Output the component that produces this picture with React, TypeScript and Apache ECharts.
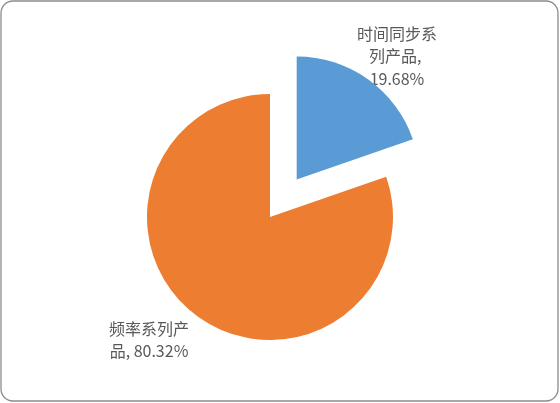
import React, { useEffect, useRef } from "react";
import * as echarts from "echarts";

const categories = ["时间同步系列产品", "频率系列产品"];
const values = [19.68, 80.32];
const colors = ["#5B9BD5", "#ED7D31"];
const explodedIndex = 0;
const labelAnchors = [
  [397, 55],
  [149, 339],
];

export default function App() {
  const ref = useRef<HTMLDivElement>(null);
  useEffect(() => {
    if (!ref.current) return;
    const chart = echarts.init(ref.current, null, { renderer: "svg" });
    const data = categories.map((name, i) => ({
      name,
      value: values[i],
      selected: i === explodedIndex,
      itemStyle: { color: colors[i] },
      select: { itemStyle: { color: colors[i] } },
    }));
    const labels = categories.map((name, i) => ({
      type: "text",
      x: labelAnchors[i][0],
      y: labelAnchors[i][1],
      silent: true,
      style: {
        text: `${name}, ${values[i].toFixed(2)}%`,
        width: 86,
        overflow: "break",
        fill: "#595959",
        fontSize: 16,
        lineHeight: 22.5,
        align: "center",
        verticalAlign: "middle",
        fontFamily: "'Noto Sans CJK SC', 'Noto Sans', sans-serif",
      },
    }));
    chart.setOption({
      animation: false,
      graphic: [
        {
          type: "rect",
          shape: { x: 1, y: 1, width: 557, height: 400, r: 12 },
          style: { fill: "#fff", stroke: "#8c8c8c", lineWidth: 1.3 },
          z: -10,
          silent: true,
        },
        ...labels,
      ],
      series: [
        {
          type: "pie",
          center: [270, 217],
          radius: 123,
          startAngle: 90,
          clockwise: true,
          selectedMode: "single",
          selectedOffset: 46,
          emphasis: { disabled: true },
          itemStyle: { borderWidth: 0 },
          label: { show: false },
          labelLine: { show: false },
          data,
        },
      ],
    });
    return () => chart.dispose();
  }, []);
  return (
    <div
      ref={ref}
      style={{ position: "fixed", left: 0, top: 0, width: 560, height: 403 }}
    />
  );
}
